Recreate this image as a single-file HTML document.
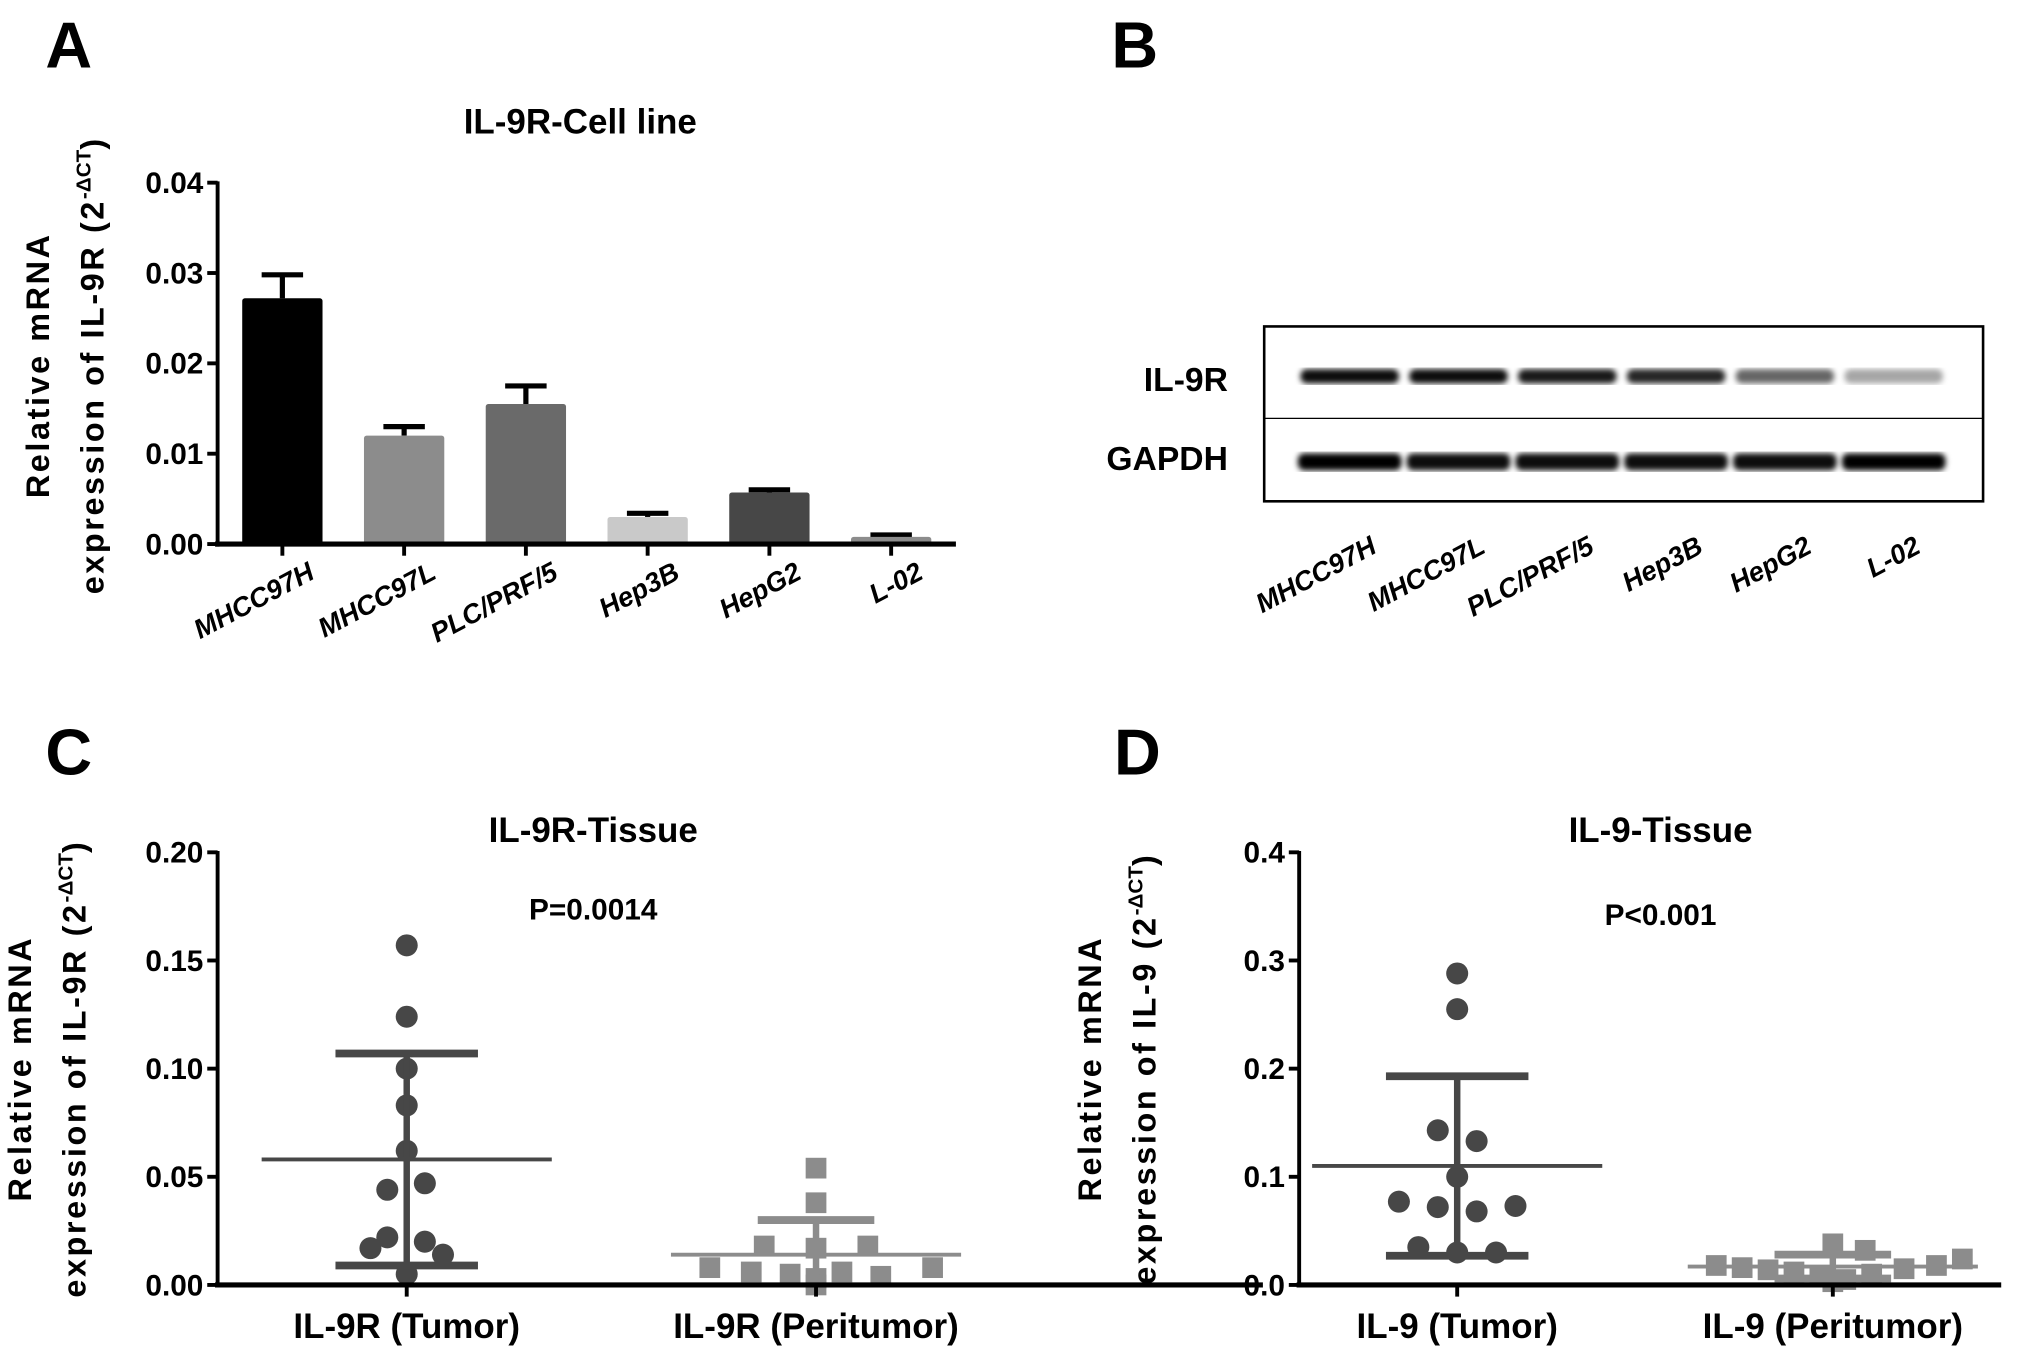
<!DOCTYPE html>
<html><head><meta charset="utf-8"><style>
html,body{margin:0;padding:0;background:#fff}
svg{display:block}
text{font-family:"Liberation Sans Narrow","Liberation Sans",sans-serif;font-weight:bold;fill:#000}
.w{font-family:"Liberation Sans",sans-serif}
</style></head><body>
<svg id="fig" width="2031" height="1357" viewBox="0 0 1568 1047.6" xmlns="http://www.w3.org/2000/svg">
<defs><filter id="bl"><feGaussianBlur stdDeviation="2.2"/></filter></defs>
<g id="A"></g>
<g id="B"></g>
<g id="C"></g>
<g id="D"></g>
</svg>
<script>
// Panel A data
const aCats=["MHCC97H","MHCC97L","PLC/PRF/5","Hep3B","HepG2","L-02"];
const aVals=[0.0272,0.0120,0.0155,0.0030,0.0057,0.0008];
const aErr=[0.0026,0.0010,0.0020,0.0004,0.0003,0.0002];
const aColors=["#000","#8c8c8c","#6a6a6a","#c9c9c9","#474747","#8c8c8c"];
const aTicks=[0,0.01,0.02,0.03,0.04];
const aTickLabels=["0.00","0.01","0.02","0.03","0.04"];
// Panel B data
const bLanes=["MHCC97H","MHCC97L","PLC/PRF/5","Hep3B","HepG2","L-02"];
const bIL9R=[0.95,0.95,0.9,0.85,0.6,0.35];
const bGAPDH=[1,0.95,0.95,0.95,0.95,1];
// Panel C data
const cGroups=["IL-9R (Tumor)","IL-9R (Peritumor)"];
const cTumor=[0.157,0.124,0.100,0.083,0.062,0.047,0.044,0.022,0.020,0.017,0.014,0.005];
const cTumorJit=[0,0,0,0,0,14,-15,-15,14,-28,28,0];
const cPeri=[0.054,0.038,0.018,0.017,0.018,0.008,0.006,0.005,0.003,0.006,0.004,0.008,0.0];
const cPeriJit=[0,0,-40,0,40,-82,-50,-20,0,20,50,90,0];
const cMean=[0.058,0.014];
const cSD=[0.049,0.016];
const cTicks=[0,0.05,0.10,0.15,0.20];
const cTickLabels=["0.00","0.05","0.10","0.15","0.20"];
// Panel D data
const dGroups=["IL-9 (Tumor)","IL-9 (Peritumor)"];
const dTumor=[0.288,0.255,0.143,0.133,0.100,0.077,0.072,0.068,0.073,0.035,0.030,0.030];
const dTumorJit=[0,0,-15,15,0,-45,-15,15,45,-30,0,30];
const dPeri=[0.038,0.032,0.018,0.016,0.014,0.012,0.008,0.005,0.003,0.010,0.015,0.018,0.024];
const dPeriJit=[0,25,-90,-70,-50,-30,-10,10,0,30,55,80,100];
const dMean=[0.110,0.017];
const dSD=[0.083,0.011];
const dTicks=[0,0.1,0.2,0.3,0.4];
const dTickLabels=["0.0","0.1","0.2","0.3","0.4"];

const NS="http://www.w3.org/2000/svg";
function mk(p,tag,at,txt){const e=document.createElementNS(NS,tag);for(const k in at)e.setAttribute(k,at[k]);if(txt!==undefined)e.textContent=txt;p.appendChild(e);return e;}

function yTitle(g,x1,x2,cy,l2){
  const t1=mk(g,"text",{x:x1,y:cy,transform:`rotate(-90 ${x1} ${cy})`,"text-anchor":"middle","font-size":25,"letter-spacing":2,class:"w"},"Relative mRNA");
  
  
  const t2=mk(g,"text",{x:x2,y:cy,transform:`rotate(-90 ${x2} ${cy})`,"text-anchor":"middle","font-size":25,"letter-spacing":2,class:"w"});
  
  
  t2.appendChild(document.createTextNode(l2+" (2"));
  const s=document.createElementNS(NS,"tspan");s.setAttribute("dy","-10");s.setAttribute("font-size","16");s.setAttribute("letter-spacing","0");s.textContent="-ΔCT";t2.appendChild(s);
  const s2=document.createElementNS(NS,"tspan");s2.setAttribute("dy","10");s2.textContent=")";t2.appendChild(s2);
}
function yAxis(g,x,y,ticks,labels,xEnd,sw){
  const a=mk(g,"line",{x1:x,y1:y(ticks[ticks.length-1])-1,x2:x,y2:y(0)+2,stroke:"#000","stroke-width":3});
  
  
  const b=mk(g,"line",{x1:x-2,y1:y(0),x2:xEnd,y2:y(0),stroke:"#000","stroke-width":sw});
  
  
  ticks.forEach((t,i)=>{
    mk(g,"line",{x1:x-8,y1:y(t),x2:x,y2:y(t),stroke:"#000","stroke-width":3});
    const l=mk(g,"text",{x:x-11,y:y(t)+8,"text-anchor":"end","font-size":23},labels[i]);
    
    
  });
}
// ---- Panel A
(function(){
  const g=document.getElementById("A");
  const y=v=>420-(v/0.04)*(420-141);
  const xc=i=>218+i*94;
  const lA=mk(g,"text",{x:35,y:52,"font-size":50,class:"w"},"A");
  
  const t=mk(g,"text",{x:448,y:103,"text-anchor":"middle","font-size":27},"IL-9R-Cell line");
  
  yTitle(g,38,80,282,"expression of IL-9R");
  aCats.forEach((c,i)=>{
    const x=xc(i),top=y(aVals[i]+aErr[i]);
    mk(g,"line",{x1:x,y1:y(aVals[i]),x2:x,y2:top,stroke:"#000","stroke-width":4});
    mk(g,"line",{x1:x-16,y1:top,x2:x+16,y2:top,stroke:"#000","stroke-width":4});
    const r=mk(g,"rect",{x:x-31,y:y(aVals[i]),width:62,height:y(0)-y(aVals[i]),fill:aColors[i],rx:2});
    
    
    mk(g,"line",{x1:x,y1:420,x2:x,y2:429,stroke:"#000","stroke-width":3});
    const l=mk(g,"text",{x:x+26,y:446,"text-anchor":"end","font-size":21,"font-style":"italic",transform:`rotate(-28 ${x+26} 446)`},c);
    
  });
  yAxis(g,168,y,aTicks,aTickLabels,738,4);
})();
// ---- Panel B
(function(){
  const g=document.getElementById("B");
  const lB=mk(g,"text",{x:858,y:52,"font-size":50,class:"w"},"B");
  
  const box=mk(g,"rect",{x:976,y:252,width:555,height:135,fill:"#fff",stroke:"#000","stroke-width":2});
  
  mk(g,"line",{x1:976,y1:323,x2:1531,y2:323,stroke:"#000","stroke-width":1});
  const l1=mk(g,"text",{x:948,y:302,"text-anchor":"end","font-size":26,class:"w"},"IL-9R");
  
  const l2=mk(g,"text",{x:948,y:363,"text-anchor":"end","font-size":26,class:"w"},"GAPDH");
  
  const lx=i=>1042+i*84;
  bLanes.forEach((c,i)=>{
    const x=lx(i);
    const b1=mk(g,"rect",{x:x-38,y:285,width:76,height:11,rx:5,fill:"#000","fill-opacity":bIL9R[i],filter:"url(#bl)"});
    
    const b2=mk(g,"rect",{x:x-40,y:350,width:80,height:13,rx:5,fill:"#000","fill-opacity":bGAPDH[i],filter:"url(#bl)"});
    
    const l=mk(g,"text",{x:x+22,y:426,"text-anchor":"end","font-size":21,"font-style":"italic",transform:`rotate(-28 ${x+22} 426)`,class:"w"},c);
    
  });
})();
// ---- Scatter panels
function scatter(id,letter,lx,title,tx,ptxt,py,axX,ticks,labels,top,groups,gx,xEnd,tum,tj,per,pj,mean,sd,ytx,l2){
  const g=document.getElementById(id);
  const y0=992,y1=658;
  const y=v=>y0-(v/top)*(y0-y1);
  const L=mk(g,"text",{x:lx,y:598,"font-size":50,class:"w"},letter);
  
  const t=mk(g,"text",{x:tx,y:650,"text-anchor":"middle","font-size":27},title);
  
  const p=mk(g,"text",{x:tx,y:py,"text-anchor":"middle","font-size":23},ptxt);
  
  yTitle(g,ytx,ytx+42,825,l2);
  const cols=["#474747","#8c8c8c"];
  [tum,per].forEach((arr,gi)=>{
    const cx=gx[gi],col=cols[gi],jit=gi?pj:tj;
    arr.forEach((v,i)=>{
      let m;
      if(gi===0) m=mk(g,"circle",{cx:cx+jit[i],cy:y(v),r:8.5,fill:col});
      else m=mk(g,"rect",{x:cx+jit[i]-8,y:y(v)-8,width:16,height:16,fill:col});
      
      
    });
    const hi=mean[gi]+sd[gi],lo=Math.max(mean[gi]-sd[gi],0);
    mk(g,"line",{x1:cx,y1:y(hi),x2:cx,y2:y(lo),stroke:col,"stroke-width":5});
    const cw=gi?45:55;
    mk(g,"line",{x1:cx-cw,y1:y(hi),x2:cx+cw,y2:y(hi),stroke:col,"stroke-width":6});
    if(mean[gi]-sd[gi]>0) mk(g,"line",{x1:cx-cw,y1:y(lo),x2:cx+cw,y2:y(lo),stroke:col,"stroke-width":6});
    const ml=mk(g,"line",{x1:cx-112,y1:y(mean[gi]),x2:cx+112,y2:y(mean[gi]),stroke:col,"stroke-width":3});
    
    mk(g,"line",{x1:cx,y1:y0,x2:cx,y2:y0+9,stroke:"#000","stroke-width":3});
    const xl=mk(g,"text",{x:cx,y:1033,"text-anchor":"middle","font-size":27},groups[gi]);
    
  });
  yAxis(g,axX,y,ticks,labels,xEnd,4);
}
scatter("C","C",35,"IL-9R-Tissue",458,"P=0.0014",710,168,cTicks,cTickLabels,0.20,cGroups,[314,630],975,cTumor,cTumorJit,cPeri,cPeriJit,cMean,cSD,24,"expression of IL-9R");
scatter("D","D",860,"IL-9-Tissue",1282,"P<0.001",714,1003,dTicks,dTickLabels,0.4,dGroups,[1125,1415],1545,dTumor,dTumorJit,dPeri,dPeriJit,dMean,dSD,850,"expression of IL-9");
</script>
</body></html>
